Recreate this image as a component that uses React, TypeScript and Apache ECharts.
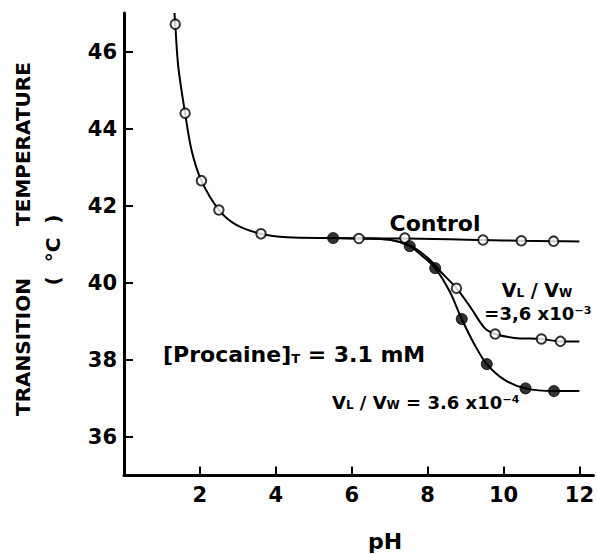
import React, { useEffect, useRef } from 'react';
import * as echarts from 'echarts';

// Axis ticks
const xTicks = [2, 4, 6, 8, 10, 12];
const yTicks = [36, 38, 40, 42, 44, 46];

// Control (open circles)
const controlPts = [
  [1.35, 46.71], [1.61, 44.4], [2.04, 42.65], [2.5, 41.89], [3.61, 41.27],
  [6.19, 41.15], [7.4, 41.16], [9.46, 41.11], [10.47, 41.09], [11.32, 41.08],
];
// Control curve as traced on the picture
const controlCurve = [
  [1.33, 47.0], [1.35, 46.71], [1.43, 45.61], [1.61, 44.4], [1.78, 43.44],
  [2.04, 42.65], [2.5, 41.89], [2.96, 41.5], [3.61, 41.27], [4.3, 41.18],
  [5.51, 41.16], [6.19, 41.15], [7.4, 41.15], [9.46, 41.11], [10.47, 41.09],
  [11.32, 41.08], [12.0, 41.07],
];

// VL/VW = 3.6e-3 (open circles)
const ratio3Pts = [[8.76, 39.86], [9.78, 38.67], [11.0, 38.54], [11.5, 38.48]];
const ratio3Curve = [
  [6.3, 41.15], [6.97, 41.12], [7.5, 40.99], [8.01, 40.64], [8.35, 40.28],
  [8.76, 39.86], [9.14, 39.35], [9.5, 38.83], [9.78, 38.67], [10.29, 38.57],
  [11.0, 38.54], [11.5, 38.48], [12.0, 38.48],
];

// VL/VW = 3.6e-4 (filled circles)
const ratio4Pts = [
  [5.51, 41.16], [7.53, 40.95], [8.2, 40.38], [8.9, 39.06], [9.56, 37.89],
  [10.58, 37.26], [11.33, 37.19],
];
const ratio4Curve = [
  [5.51, 41.16], [6.3, 41.15], [6.97, 41.12], [7.53, 40.95], [7.83, 40.72],
  [8.2, 40.38], [8.59, 39.76], [8.9, 39.06], [9.24, 38.39], [9.56, 37.89],
  [10.03, 37.48], [10.58, 37.26], [11.33, 37.19], [12.0, 37.19],
];

const FONT = '"DejaVu Sans", "Liberation Sans", sans-serif';

export default function App() {
  const ref = useRef<HTMLDivElement>(null);

  useEffect(() => {
    if (!ref.current) return;
    const chart = echarts.init(ref.current, null, { renderer: 'svg' });

    const lineSeries = (data: number[][]) => ({
      type: 'line',
      data,
      smooth: 0.3,
      showSymbol: false,
      symbol: 'none',
      lineStyle: { color: '#000', width: 2 },
      z: 2,
      silent: true,
    });

    const scatterSeries = (data: number[][], filled: boolean) => ({
      type: 'scatter',
      data,
      symbol: 'circle',
      symbolSize: filled ? 11 : 9.5,
      itemStyle: filled
        ? { color: '#000', borderColor: '#000', borderWidth: 1 }
        : { color: '#fff', borderColor: '#000', borderWidth: 2 },
      z: 3,
      silent: true,
    });

    const txt = (extra: any, style: any) => ({
      type: 'text',
      ...extra,
      style: {
        fill: '#000',
        fontFamily: FONT,
        fontWeight: 'bold',
        ...style,
      },
    });

    const center = {
      align: 'center', verticalAlign: 'middle',
      textAlign: 'center', textVerticalAlign: 'middle',
    };
    const leftMid = {
      align: 'left', verticalAlign: 'middle',
      textAlign: 'left', textVerticalAlign: 'middle',
    };
    const rs = (size: number, lh: number) => ({
      fontSize: size, fontWeight: 'bold', fontFamily: FONT, fill: '#000',
      verticalAlign: 'bottom', lineHeight: lh,
    });

    chart.setOption({
      animation: false,
      backgroundColor: '#fff',
      grid: { left: 124, right: 0, top: 13, bottom: 78.5, containLabel: false },
      xAxis: {
        type: 'value',
        min: 0,
        max: 12.37,
        axisLine: { show: true, onZero: false, lineStyle: { color: '#000', width: 3 } },
        axisTick: {
          show: true,
          inside: true,
          length: 9,
          lineStyle: { color: '#000', width: 2 },
          customValues: xTicks,
        },
        axisLabel: {
          color: '#000',
          fontSize: 21,
          fontWeight: 'bold',
          fontFamily: FONT,
          margin: 9,
          customValues: xTicks,
        },
        splitLine: { show: false },
      },
      yAxis: {
        type: 'value',
        min: 35,
        max: 47,
        axisLine: { show: true, onZero: false, lineStyle: { color: '#000', width: 3 } },
        axisTick: {
          show: true,
          inside: true,
          length: 9,
          lineStyle: { color: '#000', width: 2 },
          customValues: yTicks,
        },
        axisLabel: {
          color: '#000',
          fontSize: 21,
          fontWeight: 'bold',
          fontFamily: FONT,
          margin: 7,
          customValues: yTicks,
        },
        splitLine: { show: false },
      },
      graphic: [
        txt({ x: 23, y: 144, rotation: Math.PI / 2 }, {
          text: 'TEMPERATURE', fontSize: 20, ...center,
        }),
        txt({ x: 23, y: 347, rotation: Math.PI / 2 }, {
          text: 'TRANSITION', fontSize: 20, ...center,
        }),
        txt({ x: 53, y: 250, rotation: Math.PI / 2 }, {
          text: '(  °C  )', fontSize: 20, ...center,
        }),
        txt({ x: 385, y: 541 }, {
          text: 'pH', fontSize: 22, ...center,
        }),
        txt({ x: 435, y: 223 }, {
          text: 'Control', fontSize: 22, ...center,
        }),
        txt({ x: 163, y: 353 }, {
          text: '{m|[Procaine]}{s|T}{m| = 3.1 mM}',
          ...leftMid,
          rich: { m: rs(22, 24), s: rs(13, 24) },
        }),
        txt({ x: 537, y: 289 }, {
          text: '{m|V}{s|L}{m| / V}{s|W}',
          ...center,
          rich: { m: rs(19, 20), s: rs(12, 20) },
        }),
        txt({ x: 538, y: 313 }, {
          text: '=3,6 x10⁻³', fontSize: 18, lineHeight: 20, ...center,
        }),
        txt({ x: 332, y: 401 }, {
          text: '{m|V}{s|L}{m| / V}{s|W}{m| = 3.6 x10⁻⁴}',
          ...leftMid,
          rich: { m: rs(18, 20), s: rs(12, 20) },
        }),
      ],
      series: [
        lineSeries(controlCurve),
        lineSeries(ratio3Curve),
        lineSeries(ratio4Curve),
        scatterSeries(controlPts, false),
        scatterSeries(ratio3Pts, false),
        scatterSeries(ratio4Pts, true),
      ],
    });

    return () => chart.dispose();
  }, []);

  return (
    <div
      ref={ref}
      style={{ position: 'absolute', left: 0, top: 0, width: 597, height: 554, background: '#fff' }}
    />
  );
}
